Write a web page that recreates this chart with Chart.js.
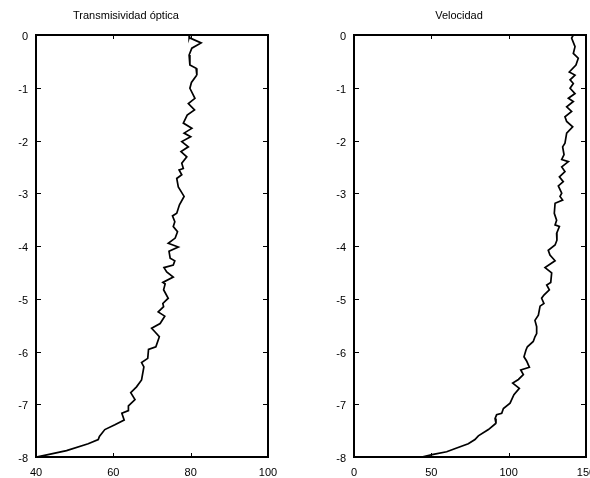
<!DOCTYPE html>
<html>
<head>
<meta charset="utf-8">
<script src="https://cdn.jsdelivr.net/npm/chart.js@4.4.0/dist/chart.umd.min.js"></script>
<style>
  html, body { margin: 0; padding: 0; background: #fff; }
  #wrap { position: relative; width: 590px; height: 478px; overflow: hidden; }
  .panel { position: absolute; top: 0; height: 478px; overflow: hidden; }
</style>
</head>
<body>
<div id="wrap">
  <div class="panel" style="left:0;width:295px"><canvas id="left" width="295" height="478"></canvas></div>
  <div class="panel" style="left:295px;width:295px"><canvas id="right" width="320" height="478"></canvas></div>
</div>
<script>
// profundidad (eje y) y valores
const transTitle = 'Transmisividad óptica';
const transDepth = [0, -0.05, -0.15, -0.25, -0.38, -0.57, -0.63, -0.76, -0.9, -1.01, -1.2, -1.3, -1.42, -1.52, -1.67, -1.77, -1.86, -1.93, -2.02, -2.12, -2.21, -2.31, -2.43, -2.53, -2.56, -2.65, -2.72, -2.88, -3.06, -3.22, -3.38, -3.43, -3.54, -3.63, -3.73, -3.85, -3.95, -4.02, -4.1, -4.23, -4.28, -4.36, -4.41, -4.49, -4.59, -4.69, -4.72, -4.83, -4.99, -5.09, -5.15, -5.25, -5.33, -5.47, -5.56, -5.63, -5.72, -5.91, -5.96, -6.13, -6.21, -6.29, -6.54, -6.67, -6.78, -6.91, -7.03, -7.12, -7.17, -7.3, -7.39, -7.48, -7.61, -7.67, -7.75, -7.88, -7.96, -8.0];
const transValue = [79.8, 79.6, 82.7, 80.3, 79.6, 79.8, 81.4, 81.6, 80.2, 79.8, 81.1, 79.4, 81.0, 79.1, 78.1, 80.3, 78.3, 80.0, 77.7, 79.4, 77.5, 79.0, 77.7, 78.1, 77.0, 77.7, 76.4, 76.8, 78.3, 77.1, 76.4, 75.3, 75.9, 75.5, 76.6, 76.0, 74.2, 76.8, 74.4, 74.7, 75.9, 75.5, 73.1, 73.8, 75.5, 72.8, 73.4, 73.0, 74.2, 72.8, 73.0, 71.6, 73.3, 72.1, 69.9, 70.8, 71.9, 71.0, 69.1, 68.9, 67.3, 67.9, 67.3, 66.0, 64.5, 65.6, 63.9, 63.9, 62.2, 62.8, 60.4, 57.8, 56.4, 56.1, 53.5, 47.9, 42.8, 40.0];
const transTicks = [40, 60, 80, 100];

const velTitle = 'Velocidad';
const velDepth = [0, -0.06, -0.22, -0.35, -0.44, -0.57, -0.7, -0.76, -0.85, -0.92, -1.01, -1.11, -1.2, -1.26, -1.36, -1.45, -1.55, -1.64, -1.74, -1.86, -2.05, -2.12, -2.27, -2.36, -2.4, -2.5, -2.59, -2.69, -2.78, -2.86, -3.0, -3.06, -3.13, -3.19, -3.38, -3.51, -3.6, -3.63, -3.76, -3.89, -3.98, -4.08, -4.17, -4.28, -4.41, -4.51, -4.69, -4.74, -4.83, -4.93, -4.99, -5.09, -5.14, -5.31, -5.41, -5.53, -5.66, -5.72, -5.81, -5.91, -5.97, -6.1, -6.18, -6.3, -6.35, -6.44, -6.53, -6.6, -6.7, -6.82, -6.98, -7.08, -7.17, -7.2, -7.27, -7.36, -7.48, -7.6, -7.67, -7.75, -7.83, -7.9, -7.95, -8.0];
const velValue = [141.8, 140.7, 142.9, 141.8, 145.0, 143.5, 139.2, 142.9, 139.7, 141.8, 139.7, 142.9, 138.6, 141.8, 137.5, 140.7, 136.4, 137.5, 141.4, 137.5, 136.4, 134.9, 135.8, 134.3, 138.6, 134.3, 136.4, 132.8, 135.3, 132.1, 134.3, 133.2, 134.9, 130.0, 129.5, 131.0, 130.0, 132.8, 131.0, 131.2, 130.0, 125.6, 126.7, 130.0, 123.5, 127.8, 127.2, 124.6, 126.3, 122.8, 121.3, 122.8, 120.3, 119.2, 117.0, 118.1, 118.1, 117.0, 115.9, 112.1, 111.2, 109.9, 111.6, 113.4, 107.8, 109.5, 106.3, 102.6, 106.9, 103.4, 100.9, 96.6, 95.5, 92.2, 91.2, 91.8, 86.9, 80.4, 78.2, 73.9, 66.4, 59.9, 51.3, 43.8];
const velTicks = [0, 50, 100, 150];

const depthTicks = [0, -1, -2, -3, -4, -5, -6, -7, -8];

const FONT = { family: '"Liberation Sans", Arial, sans-serif', size: 11 };

// marco y marcas interiores estilo gnuplot
const frame = {
  id: 'frame',
  afterDraw(chart, args, opts) {
    const { ctx, chartArea: a, scales } = chart;
    ctx.save();
    ctx.strokeStyle = '#000';
    ctx.lineWidth = 1;
    ctx.beginPath();
    scales.y.ticks.forEach(t => {
      const py = Math.round(scales.y.getPixelForValue(t.value)) + 0.5;
      ctx.moveTo(a.left, py); ctx.lineTo(a.left + 5, py);
      ctx.moveTo(a.right, py); ctx.lineTo(a.right - 5, py);
    });
    scales.x.ticks.forEach(t => {
      const px = Math.round(scales.x.getPixelForValue(t.value)) + 0.5;
      ctx.moveTo(px, a.top); ctx.lineTo(px, a.top + 4);
      ctx.moveTo(px, a.bottom); ctx.lineTo(px, a.bottom - 4);
    });
    ctx.stroke();
    ctx.lineWidth = 2;
    ctx.strokeRect(a.left, a.top, a.right - a.left, a.bottom - a.top);
    ctx.fillStyle = '#000';
    ctx.font = '11px ' + FONT.family;
    ctx.textAlign = 'center';
    ctx.textBaseline = 'middle';
    ctx.fillText(opts.text, opts.cx, 16);
    ctx.restore();
  }
};

function makePanel(id, depth, values, xTicks, yWidth, padRight, title, titleX) {
  new Chart(document.getElementById(id), {
    type: 'scatter',
    data: {
      datasets: [{
        data: depth.map((d, i) => ({ x: values[i], y: d })),
        showLine: true,
        borderColor: '#000',
        borderWidth: 1.7,
        pointRadius: 0,
        tension: 0
      }]
    },
    options: {
      responsive: false,
      animation: false,
      devicePixelRatio: 1,
      layout: { padding: { top: 35, left: 0, right: padRight, bottom: 0 } },
      plugins: {
        legend: { display: false },
        tooltip: { enabled: false },
        frame: { text: title, cx: titleX }
      },
      scales: {
        x: {
          type: 'linear',
          min: xTicks[0],
          max: xTicks[xTicks.length - 1],
          afterBuildTicks: s => { s.ticks = xTicks.map(v => ({ value: v })); },
          afterFit: s => { s.height = 21; },
          grid: { display: false, drawTicks: false },
          border: { display: false },
          ticks: { color: '#000', font: FONT, padding: 9, maxRotation: 0 }
        },
        y: {
          type: 'linear',
          min: -8,
          max: 0,
          afterBuildTicks: s => { s.ticks = depthTicks.map(v => ({ value: v })); },
          afterFit: s => { s.width = yWidth; },
          grid: { display: false, drawTicks: false },
          border: { display: false },
          ticks: { color: '#000', font: FONT, padding: 8, labelOffset: 2 }
        }
      }
    },
    plugins: [frame]
  });
}

makePanel('left', transDepth, transValue, transTicks, 36, 27, transTitle, 126);
makePanel('right', velDepth, velValue, velTicks, 59, 29, velTitle, 164);
</script>
</body>
</html>
